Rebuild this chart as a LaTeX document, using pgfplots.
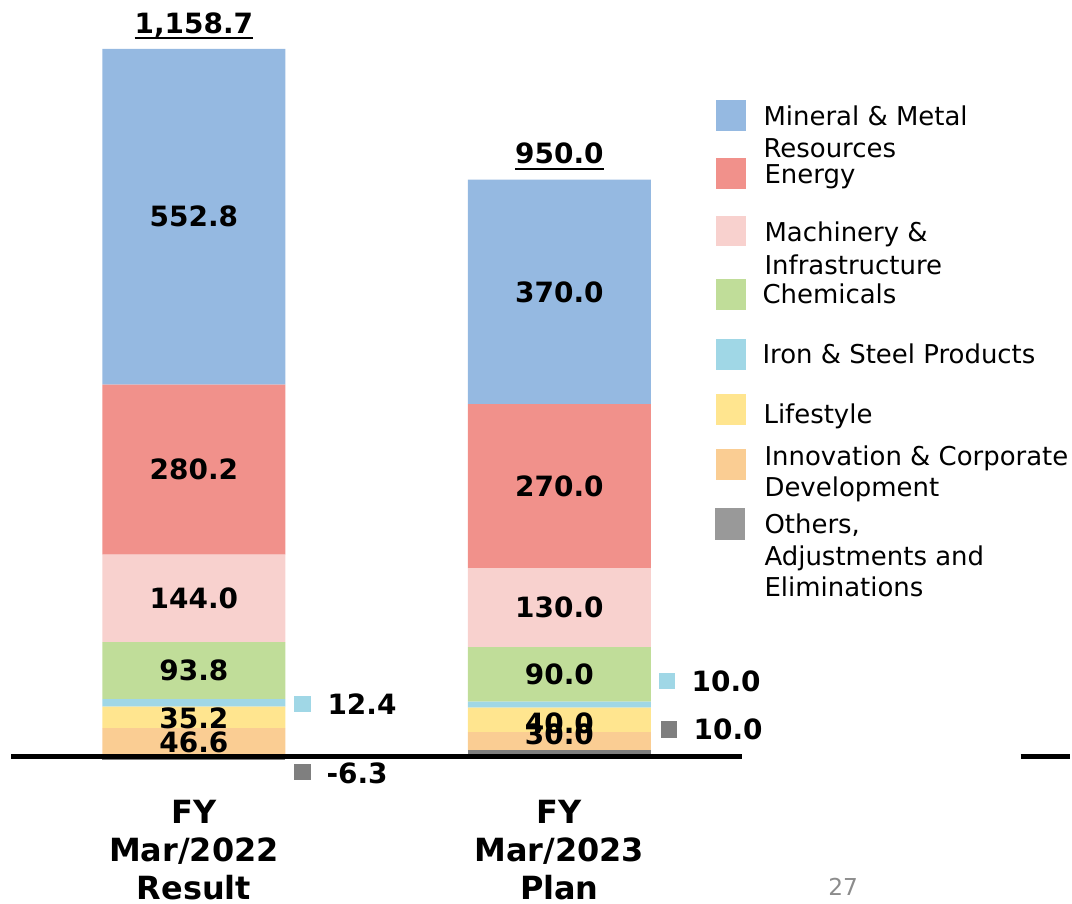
\documentclass[border=0pt]{standalone}
\usepackage{pgfplots}
\pgfplotsset{compat=1.18}
\usepackage{fontspec}
\setmainfont{DejaVu Sans}
\definecolor{cMin}{HTML}{95B9E1}
\definecolor{cEne}{HTML}{F1918B}
\definecolor{cMac}{HTML}{F8D1CE}
\definecolor{cChe}{HTML}{C0DD99}
\definecolor{cIro}{HTML}{A0D7E6}
\definecolor{cLif}{HTML}{FFE58F}
\definecolor{cInn}{HTML}{FACD93}
\definecolor{cOth}{HTML}{7F7F7F}
\definecolor{cOthL}{HTML}{999999}
\newcommand\ul[1]{\setbox0\hbox{#1}\rlap{\rule[-4.5pt]{\wd0}{1.5pt}}\box0}
\tikzset{vl/.style={anchor=center, inner sep=0pt, font=\bfseries\fontsize{21}{21}\selectfont}}
\begin{document}
\begin{tikzpicture}
\begin{scope}[x=0.75pt,y=-0.75pt]
\path[use as bounding box] (0,0) rectangle (1072,906);
\end{scope}
\begin{axis}[
  at={(8.3625pt,-577.63pt)}, anchor=south west,
  scale only axis, width=549.45pt, height=556.78pt,
  xmin=-0.5, xmax=1.5, ymin=-20, ymax=1200,
  ybar stacked, bar width=137.5pt,
  axis line style={draw=none}, tick style={draw=none},
  ytick=\empty, xtick={0,1},
  xticklabels={{FY\\Mar/2022\\Result},{FY\\Mar/2023\\Plan}},
  xticklabel style={align=center, inner sep=0pt, font=\bfseries\fontsize{24}{28.5}\selectfont, yshift=-24pt},
  clip=false,
]
\addplot[fill=cOth, draw=none] coordinates {(0,0) (1,10)};
\addplot[fill=cInn, draw=none] coordinates {(0,46.6) (1,30.0)};
\addplot[fill=cLif, draw=none] coordinates {(0,35.2) (1,40.0)};
\addplot[fill=cIro, draw=none] coordinates {(0,12.4) (1,10.0)};
\addplot[fill=cChe, draw=none] coordinates {(0,93.8) (1,90.0)};
\addplot[fill=cMac, draw=none] coordinates {(0,144.0) (1,130.0)};
\addplot[fill=cEne, draw=none] coordinates {(0,280.2) (1,270.0)};
\addplot[fill=cMin, draw=none] coordinates {(0,552.8) (1,370.0)};
\end{axis}
\begin{axis}[
  at={(8.3625pt,-577.63pt)}, anchor=south west,
  scale only axis, width=549.45pt, height=556.78pt,
  xmin=-0.5, xmax=1.5, ymin=-20, ymax=1200,
  ybar, bar width=137.5pt, hide axis, clip=false,
]
\addplot[fill=cOth, draw=none] coordinates {(0,-6.3)};
\draw[line width=3.6pt] (axis cs:-0.5,0) -- (axis cs:1.5,0);
% value labels, centred in their segments
\node[vl] at (axis cs:0,22.2) {46.6};
\node[vl] at (axis cs:0,63.3) {35.2};
\node[vl] at (axis cs:0,141.1) {93.8};
\node[vl] at (axis cs:0,260.0) {144.0};
\node[vl] at (axis cs:0,472.1) {280.2};
\node[vl] at (axis cs:0,888.6) {552.8};
\node[vl] at (axis cs:1,36.0) {30.0};
\node[vl] at (axis cs:1,55.0) {40.0};
\node[vl] at (axis cs:1,135.0) {90.0};
\node[vl] at (axis cs:1,245.0) {130.0};
\node[vl] at (axis cs:1,445.0) {270.0};
\node[vl] at (axis cs:1,765.0) {370.0};
\node[anchor=base, inner sep=0pt, yshift=12pt, font=\bfseries\fontsize{21}{21}\selectfont] at (axis cs:0,1165) {\ul{1,158.7}};
\node[anchor=base, inner sep=0pt, yshift=12pt, font=\bfseries\fontsize{21}{21}\selectfont] at (axis cs:1,950) {\ul{950.0}};
\end{axis}
\begin{scope}[x=0.75pt,y=-0.75pt]
\tikzset{lg/.style={anchor=base west, inner sep=0pt, font=\fontsize{19.5}{24}\selectfont},
         ol/.style={anchor=base west, inner sep=0pt, font=\bfseries\fontsize{21}{21}\selectfont}}
\fill[cMin] (718,100) rectangle (748,131);
\fill[cEne] (718,158) rectangle (748,189);
\fill[cMac] (718,216) rectangle (748,247);
\fill[cChe] (718,280) rectangle (748,311);
\fill[cIro] (718,340) rectangle (748,371);
\fill[cLif] (718,395) rectangle (748,426);
\fill[cInn] (718,450) rectangle (748,481);
\fill[cOthL] (717,509) rectangle (747,541);
\node[lg] at (765,126) {Mineral \& Metal};
\node[lg] at (765,158) {Resources};
\node[lg] at (766,184) {Energy};
\node[lg] at (766,242) {Machinery \&};
\node[lg] at (766,275) {Infrastructure};
\node[lg] at (764,304) {Chemicals};
\node[lg] at (764,364) {Iron \& Steel Products};
\node[lg] at (765,424) {Lifestyle};
\node[lg] at (766,467) {Innovation \& Corporate};
\node[lg] at (766,498) {Development};
\node[lg] at (766,535) {Others,};
\node[lg] at (766,567) {Adjustments and};
\node[lg] at (766,598) {Eliminations};
\fill[cIro] (295,698) rectangle (312,714);
\node[ol] at (328,716) {12.4};
\fill[cOth] (295,766) rectangle (312,782);
\node[ol] at (327,785) {-6.3};
\fill[cIro] (660,674) rectangle (677,691);
\node[ol] at (693,693) {10.0};
\fill[cOth] (662,723) rectangle (679,740);
\node[ol] at (695,741) {10.0};
\draw[line width=3.6pt] (1023,758) -- (1072,758);
\node[anchor=base, inner sep=0pt, text=black!45, font=\fontsize{17.5}{20}\selectfont] at (845,897) {27};
\end{scope}
\end{tikzpicture}
\end{document}
